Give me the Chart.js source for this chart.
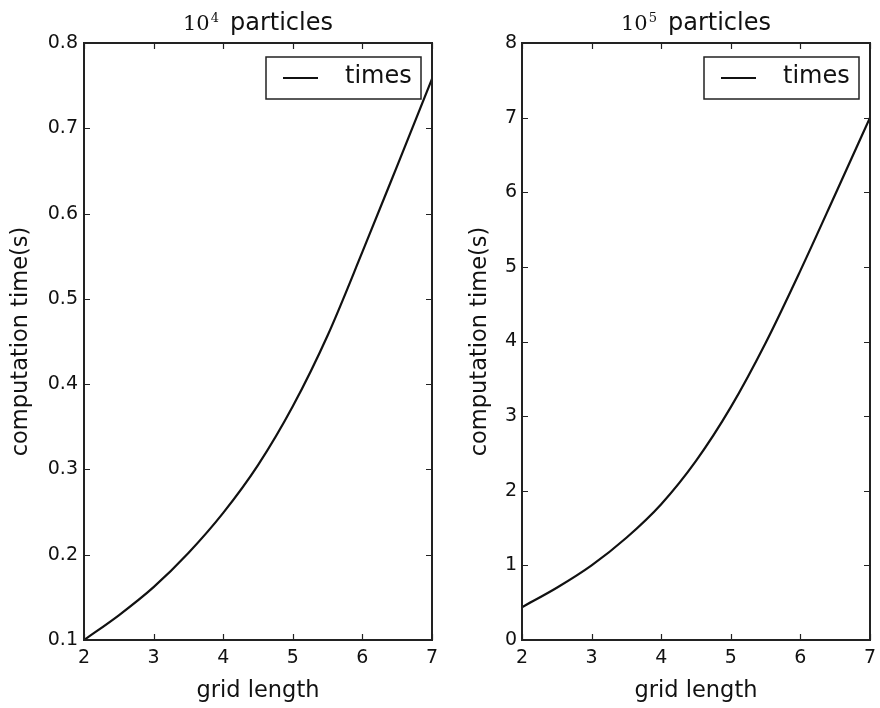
<!DOCTYPE html>
<html lang="en">
<head>
  <meta charset="utf-8">
  <title>Computation time vs grid length</title>
  <script src="https://cdn.jsdelivr.net/npm/chart.js"></script>
  <style>
    body { margin: 0; background: #fff; }
    .panel { position: absolute; top: 0; width: 440px; height: 708px; }
    #leftPanel { left: 0; }
    #rightPanel { left: 440px; }
  </style>
</head>
<body>
  <div class="panel" id="leftPanel"><canvas id="chart1e4"></canvas></div>
  <div class="panel" id="rightPanel"><canvas id="chart1e5"></canvas></div>

  <script>
    // values
    const gridLength = [2, 2.5, 3, 3.5, 4, 4.5, 5, 5.5, 6, 6.5, 7];
    const times1e4 = [0.100, 0.129, 0.162, 0.202, 0.249, 0.305, 0.374, 0.457, 0.555, 0.656, 0.758];
    const times1e5 = [0.44, 0.70, 1.00, 1.37, 1.82, 2.40, 3.12, 3.98, 4.95, 5.97, 7.00];

    const xTicks = [2, 3, 4, 5, 6, 7];
    const yTicks1e4 = [0.1, 0.2, 0.3, 0.4, 0.5, 0.6, 0.7, 0.8];
    const yTicks1e5 = [0, 1, 2, 3, 4, 5, 6, 7, 8];

    const seriesLabel = 'times';
    const xTitle = 'grid length';
    const yTitle = 'computation time(s)';
    const titleBase = '10';
    const titleWord = 'particles';

    const SANS = "'DejaVu Sans', sans-serif";
    const SERIF = "'DejaVu Serif', serif";
    Chart.defaults.font.family = SANS;
    Chart.defaults.color = '#111';

    // matplotlib-ish frame: box, inward ticks on all sides, legend in the corner, title on top
    const framePlugin = {
      id: 'frame',
      afterDatasetsDraw(chart, args, opts) {
        const { ctx, chartArea: a, scales: { x, y } } = chart;
        ctx.save();

        ctx.strokeStyle = '#222';
        ctx.lineWidth = 1.2;
        ctx.beginPath();
        x.ticks.forEach(t => {
          const px = Math.round(x.getPixelForValue(t.value)) + 0.5;
          ctx.moveTo(px, a.bottom); ctx.lineTo(px, a.bottom - 6);
          ctx.moveTo(px, a.top); ctx.lineTo(px, a.top + 6);
        });
        y.ticks.forEach(t => {
          const py = Math.round(y.getPixelForValue(t.value)) + 0.5;
          ctx.moveTo(a.left, py); ctx.lineTo(a.left + 6, py);
          ctx.moveTo(a.right, py); ctx.lineTo(a.right - 6, py);
        });
        ctx.stroke();

        ctx.lineWidth = 2;
        ctx.strokeRect(a.left, a.top, a.right - a.left, a.bottom - a.top);

        // legend box
        const ds = chart.data.datasets[0];
        const bw = 155, bh = 42;
        const bx = a.right - 11 - bw, by = a.top + 14;
        ctx.fillStyle = '#fff';
        ctx.fillRect(bx, by, bw, bh);
        ctx.lineWidth = 1.5;
        ctx.strokeRect(bx, by, bw, bh);
        ctx.strokeStyle = ds.borderColor;
        ctx.lineWidth = ds.borderWidth;
        ctx.beginPath();
        ctx.moveTo(bx + 17, by + 21);
        ctx.lineTo(bx + 52, by + 21);
        ctx.stroke();
        ctx.fillStyle = '#111';
        ctx.font = '24px ' + SANS;
        ctx.textAlign = 'left';
        ctx.textBaseline = 'middle';
        ctx.fillText(ds.label, bx + 79, by + 20);

        // title: 10^n  particles
        const baseY = 30;
        ctx.textBaseline = 'alphabetic';
        ctx.font = '21px ' + SERIF;
        const wBase = ctx.measureText(titleBase).width;
        ctx.font = '13px ' + SERIF;
        const wExp = ctx.measureText(opts.exponent).width;
        ctx.font = '24px ' + SANS;
        const wWord = ctx.measureText(titleWord).width;
        const gap = 12;
        let tx = (a.left + a.right) / 2 - (wBase + wExp + gap + wWord) / 2;
        ctx.font = '21px ' + SERIF;
        ctx.fillText(titleBase, tx, baseY);
        tx += wBase + 1;
        ctx.font = '13px ' + SERIF;
        ctx.fillText(opts.exponent, tx, baseY - 8);
        tx += wExp + gap - 1;
        ctx.font = '24px ' + SANS;
        ctx.fillText(titleWord, tx, baseY);

        ctx.restore();
      }
    };

    function makeChart(id, values, yTicks, yMin, yMax, opts) {
      return new Chart(document.getElementById(id).getContext('2d'), {
        type: 'line',
        data: {
          datasets: [{
            label: seriesLabel,
            data: gridLength.map((g, i) => ({ x: g, y: values[i] })),
            borderColor: '#111',
            borderWidth: 2.2,
            pointRadius: 0,
            fill: false,
            cubicInterpolationMode: 'monotone'
          }]
        },
        options: {
          responsive: true,
          maintainAspectRatio: false,
          animation: false,
          layout: { padding: { top: 43, right: opts.right, left: 0, bottom: 0 } },
          plugins: {
            legend: { display: false },
            tooltip: { enabled: false },
            frame: { exponent: opts.exponent }
          },
          scales: {
            x: {
              type: 'linear',
              min: 2,
              max: 7,
              afterBuildTicks: s => { s.ticks = xTicks.map(v => ({ value: v })); },
              afterFit: s => { s.height = 68; s.paddingLeft = 0; s.paddingRight = 0; },
              grid: { display: false, drawTicks: false },
              border: { display: false },
              ticks: { font: { size: 19 }, padding: 6.5, maxRotation: 0, autoSkip: false },
              title: { display: true, text: xTitle, font: { size: 22.5 }, padding: { top: 0, bottom: 3 } }
            },
            y: {
              type: 'linear',
              min: yMin,
              max: yMax,
              afterBuildTicks: s => { s.ticks = yTicks.map(v => ({ value: v })); },
              afterFit: s => { s.width = opts.yWidth; s.paddingTop = 0; s.paddingBottom = 0; },
              grid: { display: false, drawTicks: false },
              border: { display: false },
              ticks: {
                font: { size: 19 },
                padding: opts.tickPad,
                autoSkip: false,
                callback: v => opts.decimals ? v.toFixed(opts.decimals) : String(v)
              },
              title: { display: true, text: yTitle, font: { size: 22.5 }, padding: { top: opts.titlePad, bottom: 0 } }
            }
          }
        },
        plugins: [framePlugin]
      });
    }

    makeChart('chart1e4', times1e4, yTicks1e4, 0.1, 0.8,
      { right: 8, yWidth: 84, tickPad: 6, titlePad: 8, decimals: 1, exponent: '4' });
    makeChart('chart1e5', times1e5, yTicks1e5, 0, 8,
      { right: 10, yWidth: 82, tickPad: 5, titlePad: 27, decimals: 0, exponent: '5' });
  </script>
</body>
</html>
